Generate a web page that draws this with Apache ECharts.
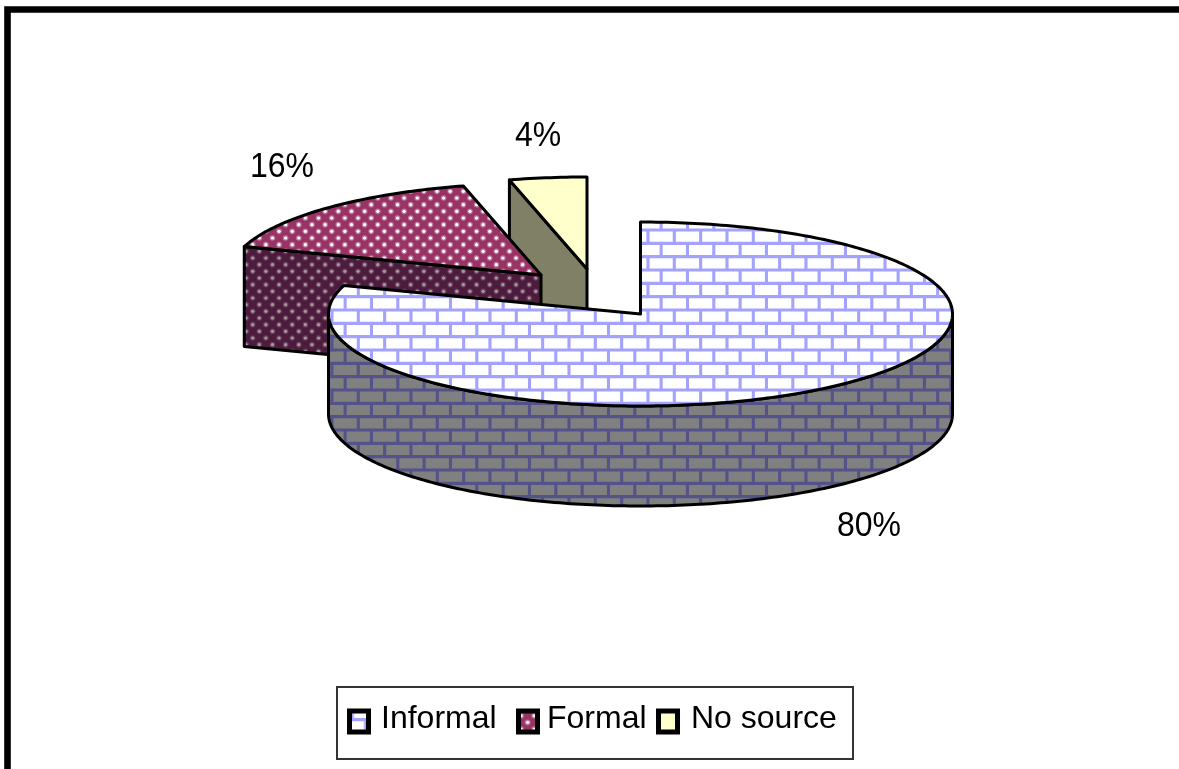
<!DOCTYPE html>
<html>
<head>
<meta charset="utf-8">
<title>Source of funding</title>
<style>
  html, body { margin: 0; padding: 0; background: #fff; }
  #chart { width: 1179px; height: 769px; }
</style>
<script src="https://cdn.jsdelivr.net/npm/echarts@6/dist/echarts.min.js"></script>
</head>
<body>
<div id="chart"></div>
<script>
// Chart values
const categories = ['Informal', 'Formal', 'No source'];
const shares = [80, 16, 4];

// Pie geometry: the disc is drawn as an ellipse with an extruded wall
const centerX = 640.5, centerY = 314, radiusX = 312, radiusY = 92, wallDepth = 100;
const sliceOffsets = [[0, 0], [-99.5, -39], [-53.5, -45]];
const labelPositions = [[869, 526], [282, 167], [538, 136]];
const edgeColor = '#000';
const fontFamily = '"Liberation Sans", Arial, sans-serif';

function makeTile(width, height, paint) {
  const canvas = document.createElement('canvas');
  canvas.width = width;
  canvas.height = height;
  paint(canvas.getContext('2d'), width, height);
  return canvas;
}

// Running-bond brick hatch, 6 columns by 6 rows per tile
function brickTile(base, mortar) {
  return makeTile(158, 80, (ctx, w, h) => {
    ctx.fillStyle = base;
    ctx.fillRect(0, 0, w, h);
    ctx.strokeStyle = mortar;
    ctx.lineWidth = 3.1;
    const colW = w / 6, rowH = h / 6;
    for (let r = 0; r < 6; r++) {
      const y = 3.33 + r * rowH;
      ctx.beginPath(); ctx.moveTo(0, y); ctx.lineTo(w, y); ctx.stroke();
      const phase = r % 2 ? 15.97 : 2.8;
      for (let c = -1; c < 7; c++) {
        const x = phase + c * colW;
        ctx.beginPath(); ctx.moveTo(x, y); ctx.lineTo(x, y + rowH); ctx.stroke();
      }
    }
    // the bottom row spills over the tile edge, so repeat it at the top
    for (let c = -1; c < 7; c++) {
      const x = 15.97 + c * colW;
      ctx.beginPath(); ctx.moveTo(x, 3.33 - rowH); ctx.lineTo(x, 3.33); ctx.stroke();
    }
  });
}

// Staggered dot hatch
function dotTile(base, dot, halo) {
  return makeTile(79, 40, (ctx, w, h) => {
    ctx.fillStyle = base;
    ctx.fillRect(0, 0, w, h);
    for (let r = 0; r < 6; r++) {
      for (let c = -1; c < 7; c++) {
        const x = 9.13 + c * w / 6 + (r % 2 ? w / 12 : 0);
        const y = (38 + r * h / 6) % h;
        for (const oy of [-h, 0, h]) {
          ctx.fillStyle = halo;
          ctx.beginPath(); ctx.arc(x, y + oy, 2.8, 0, Math.PI * 2); ctx.fill();
          ctx.fillStyle = dot;
          ctx.beginPath(); ctx.arc(x, y + oy, 1.6, 0, Math.PI * 2); ctx.fill();
        }
      }
    }
  });
}

function solidTile(color) {
  return makeTile(4, 4, (ctx, w, h) => { ctx.fillStyle = color; ctx.fillRect(0, 0, w, h); });
}

const topFills = [
  { image: brickTile('#ffffff', '#a3a3ff'), repeat: 'repeat' },
  { image: dotTile('#993366', '#ffffff', 'rgba(255,255,255,0.35)'), repeat: 'repeat' },
  { image: solidTile('#ffffcc'), repeat: 'repeat' }
];
const wallFills = [
  { image: brickTile('#808080', '#53538a'), repeat: 'repeat' },
  { image: dotTile('#4d1b3d', '#a8989f', 'rgba(168,152,159,0.3)'), repeat: 'repeat' },
  { image: solidTile('#808066'), repeat: 'repeat' }
];
const legendFills = [
  { image: topFills[0].image, repeat: 'repeat', y: -8 },
  topFills[1],
  '#ffffcc'
];

const total = shares.reduce((a, b) => a + b, 0);

function sliceAngles(index) {
  const before = shares.slice(0, index).reduce((a, b) => a + b, 0);
  return [before / total * 360, (before + shares[index]) / total * 360];
}

// Angle is clockwise from twelve o'clock
function rimPoint(deg, ox, oy, drop) {
  const rad = deg * Math.PI / 180;
  return [
    centerX + ox + radiusX * Math.sin(rad),
    centerY + oy - radiusY * Math.cos(rad) + drop
  ];
}

function arcPoints(from, to, ox, oy, drop) {
  const pts = [];
  const steps = Math.max(2, Math.ceil(Math.abs(to - from)));
  for (let i = 0; i <= steps; i++) {
    pts.push(rimPoint(from + (to - from) * i / steps, ox, oy, drop));
  }
  return pts;
}

function polygon(points, fill) {
  return {
    type: 'polygon',
    shape: { points },
    style: { fill, stroke: edgeColor, lineWidth: 3, lineJoin: 'round' },
    silent: true
  };
}

function cutFace(deg, ox, oy, fill) {
  const apex = [centerX + ox, centerY + oy];
  const rim = rimPoint(deg, ox, oy, 0);
  return polygon([apex, rim, [rim[0], rim[1] + wallDepth], [apex[0], apex[1] + wallDepth]], fill);
}

function renderSlice(index) {
  return function (params, api) {
    const [start, end] = sliceAngles(index);
    const [ox, oy] = sliceOffsets[index];
    const children = [];
    // walls facing the viewer
    if (start > 180 && start < 360) children.push(cutFace(start, ox, oy, wallFills[index]));
    if (end > 0 && end < 180) children.push(cutFace(end, ox, oy, wallFills[index]));
    const wallFrom = Math.max(start, 90), wallTo = Math.min(end, 270);
    if (wallTo > wallFrom) {
      children.push(polygon(
        arcPoints(wallFrom, wallTo, ox, oy, 0).concat(arcPoints(wallTo, wallFrom, ox, oy, wallDepth)),
        wallFills[index]
      ));
    }
    // top face
    children.push(polygon(
      [[centerX + ox, centerY + oy]].concat(arcPoints(start, end, ox, oy, 0)),
      topFills[index]
    ));
    // percentage label, slightly tall for its width
    children.push({
      type: 'text',
      x: labelPositions[index][0],
      y: labelPositions[index][1],
      scaleY: 1.1,
      style: {
        text: api.value(0) + '%',
        fill: '#000',
        font: '32px ' + fontFamily,
        align: 'center',
        verticalAlign: 'middle'
      },
      silent: true
    });
    return { type: 'group', children };
  };
}

// Legend entries are spaced by giving each label a fixed-width rich block;
// the block background makes that width count in the legend layout
const legendLabelWidths = [135, 109, 146];
const legendLabelInsets = [7.5, 4.5, 8.5];
const legendRich = {};
categories.forEach((name, i) => {
  legendRich['item' + i] = {
    width: legendLabelWidths[i],
    align: 'left',
    backgroundColor: '#fff',
    fontFamily,
    fontSize: 32,
    color: '#000'
  };
});

// Drawn back to front so the large slice overlaps the exploded ones
const drawOrder = [2, 1, 0];
const chart = echarts.init(document.getElementById('chart'), null, { renderer: 'canvas' });

chart.setOption({
  animation: false,
  backgroundColor: '#ffffff',
  graphic: [{
    type: 'rect',
    silent: true,
    shape: { x: 7.5, y: 9.5, width: 1400, height: 1000 },
    style: { fill: 'none', stroke: '#000', lineWidth: 6.6 }
  }],
  legend: {
    left: 337,
    top: 687,
    orient: 'horizontal',
    icon: 'rect',
    itemWidth: 19,
    itemHeight: 21,
    itemGap: 0,
    padding: [16, 16, 24, 10],
    borderColor: '#333',
    borderWidth: 2,
    backgroundColor: '#fff',
    selectedMode: false,
    formatter: name => `{item${categories.indexOf(name)}|${name}}`,
    textStyle: { fontFamily, fontSize: 32, color: '#000', rich: legendRich },
    data: categories.map((name, i) => ({
      name,
      icon: 'rect',
      itemStyle: { color: legendFills[i], borderColor: '#000', borderWidth: 5 },
      textStyle: {
        fontFamily,
        fontSize: 32,
        color: '#000',
        rich: legendRich,
        padding: [0, 0, 5, legendLabelInsets[i]]
      }
    }))
  },
  series: drawOrder.map(i => ({
    type: 'custom',
    name: categories[i],
    coordinateSystem: 'none',
    silent: true,
    itemStyle: { color: '#999' },
    renderItem: renderSlice(i),
    data: [[shares[i]]]
  }))
});
</script>
</body>
</html>
